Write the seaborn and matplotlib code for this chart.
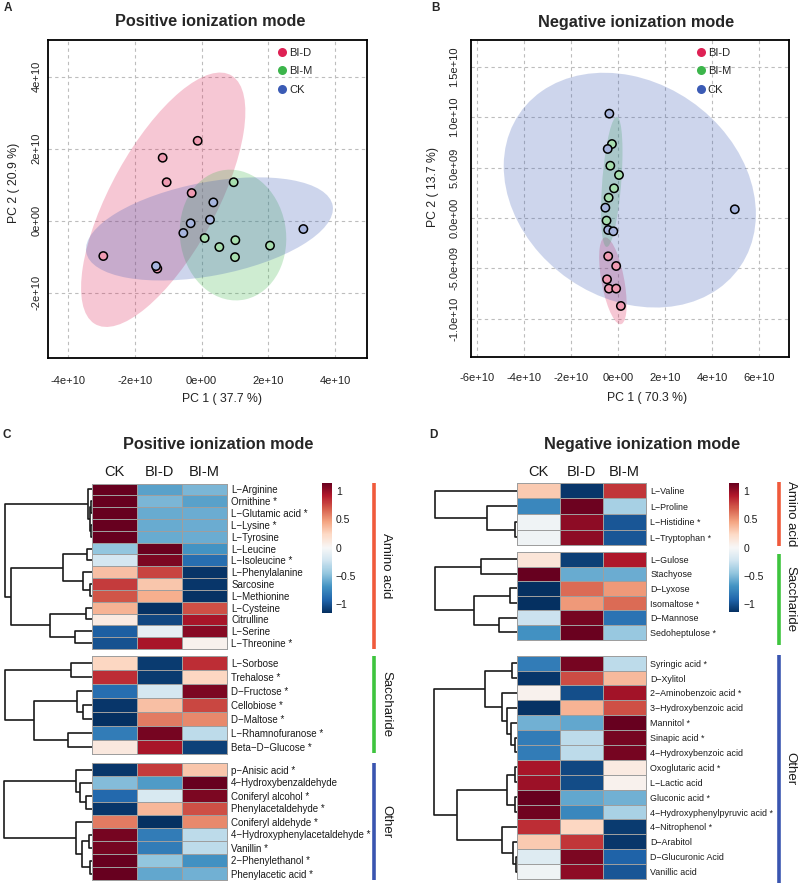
import numpy as np
import pandas as pd
import matplotlib
matplotlib.use("Agg")
import matplotlib.pyplot as plt
import seaborn as sns
from matplotlib.patches import Ellipse
from matplotlib.lines import Line2D
from matplotlib.ticker import FuncFormatter
from matplotlib.cm import ScalarMappable

sns.set_style("white")
plt.rcParams["font.family"] = ["Liberation Sans", "DejaVu Sans"]

# ---------------- data ----------------
GROUPS = ["BI-D", "BI-M", "CK"]
GROUP_COLORS = ["#DE2154", "#3CB54B", "#3B5BB5"]

# Panel A (positive mode PCA)
A_BID_PC1 = [-0.12e10, -1.17e10, -1.05e10, -0.30e10, -2.95e10, -1.33e10]
A_BID_PC2 = [2.22e10, 1.75e10, 1.07e10, 0.77e10, -0.98e10, -1.33e10]
A_BIM_PC1 = [0.96e10, 0.09e10, 0.53e10, 1.01e10, 1.00e10, 2.05e10]
A_BIM_PC2 = [1.07e10, -0.48e10, -0.73e10, -0.54e10, -1.01e10, -0.69e10]
A_CK_PC1 = [0.35e10, 0.25e10, -0.33e10, -0.55e10, -1.37e10, 3.05e10]
A_CK_PC2 = [0.51e10, 0.03e10, -0.07e10, -0.34e10, -1.26e10, -0.23e10]
A_XTICKS = [-4e10, -2e10, 0, 2e10, 4e10]
A_YTICKS = [-2e10, 0, 2e10, 4e10]

# Panel B (negative mode PCA)
B_BID_PC1 = [-0.43e10, -0.09e10, -0.48e10, -0.40e10, -0.09e10, 0.11e10]
B_BID_PC2 = [-0.380e10, -0.476e10, -0.608e10, -0.700e10, -0.700e10, -0.872e10]
B_BIM_PC1 = [-0.27e10, -0.34e10, 0.03e10, -0.18e10, -0.41e10, -0.50e10]
B_BIM_PC2 = [0.733e10, 0.518e10, 0.426e10, 0.294e10, 0.201e10, -0.026e10]
B_CK_PC1 = [-0.38e10, -0.45e10, -0.55e10, -0.43e10, -0.21e10, 4.96e10]
B_CK_PC2 = [1.034e10, 0.684e10, 0.102e10, -0.119e10, -0.132e10, 0.086e10]
B_XTICKS = [-6e10, -4e10, -2e10, 0, 2e10, 4e10, 6e10]
B_YTICKS = [-1.0e10, -0.5e10, 0, 0.5e10, 1.0e10, 1.5e10]

# Heatmap columns and colour scale
COLUMNS = ["CK", "BI-D", "BI-M"]
VLIM = 1.15
CB_TICKS = [-1, -0.5, 0, 0.5, 1]
CB_LABELS = ["\u22121", "\u22120.5", "0", "0.5", "1"]
CLASS_NAMES = ["Amino acid", "Saccharide", "Other"]
CLASS_COLORS = ["#F05A3C", "#3EC43E", "#3A55B0"]

# Panel C (positive mode heatmap)
C_AMINO_NAMES = ["L\u2212Arginine", "Ornithine *", "L\u2212Glutamic acid *", "L\u2212Lysine *",
                 "L\u2212Tyrosine", "L\u2212Leucine", "L\u2212Isoleucine *", "L\u2212Phenylalanine",
                 "Sarcosine", "L\u2212Methionine", "L\u2212Cysteine", "Citrulline",
                 "L\u2212Serine", "L\u2212Threonine *"]
C_AMINO_CK = [1.15, 1.15, 1.15, 1.15, 1.15, -0.45, -0.20, 0.35, 0.80, 0.72, 0.40, 0.10, -0.95, -1.00]
C_AMINO_BID = [-0.62, -0.53, -0.58, -0.58, -0.58, 1.14, 1.08, 0.78, 0.32, 0.42, -1.14, -1.05, -0.10, 0.95]
C_AMINO_BIM = [-0.53, -0.62, -0.57, -0.57, -0.57, -0.69, -0.88, -1.13, -1.12, -1.14, 0.74, 0.95, 1.05, 0.05]
C_AMINO_TREE = [[0, [[1, 2, 3], [3, 4, 3], 5], 10],
                [[[5, 6, 13], [7, [8, 9, 5], 25], 85],
                 [[10, 11, 17], [12, 13, 50], 125], 242], 260]

C_SACCH_NAMES = ["L\u2212Sorbose", "Trehalose *", "D\u2212Fructose *", "Cellobiose *",
                 "D\u2212Maltose *", "L\u2212Rhamnofuranose *", "Beta\u2212D\u2212Glucose *"]
C_SACCH_CK = [0.25, 0.85, -0.88, -1.12, -1.15, -0.80, 0.12]
C_SACCH_BID = [-1.10, -1.10, -0.20, 0.35, 0.60, 1.10, 0.95]
C_SACCH_BIM = [0.85, 0.25, 1.08, 0.77, 0.55, -0.30, -1.07]
C_SACCH_TREE = [[0, 1, 63], [[2, [3, 4, 25], 43], [5, 6, 72], 173], 260]

C_OTHER_NAMES = ["p\u2212Anisic acid *", "4\u2212Hydroxybenzaldehyde", "Coniferyl alcohol *",
                 "Phenylacetaldehyde *", "Coniferyl aldehyde *", "4\u2212Hydroxyphenylacetaldehyde *",
                 "Vanillin *", "2\u2212Phenylethanol *", "Phenylacetic acid *"]
C_OTHER_CK = [-1.12, -0.50, -0.90, -1.12, 0.60, 1.10, 1.10, 1.15, 1.15]
C_OTHER_BID = [0.80, -0.65, -0.18, 0.38, -1.15, -0.80, -0.80, -0.45, -0.60]
C_OTHER_BIM = [0.32, 1.15, 1.08, 0.74, 0.55, -0.30, -0.30, -0.70, -0.55]
C_OTHER_TREE = [[0, [1, [2, 3, 17], 35], 47], [4, [[5, 6, 7], [7, 8, 5], 30], 47], 263]

# Panel D (negative mode heatmap)
D_AMINO_NAMES = ["L\u2212Valine", "L\u2212Proline", "L\u2212Histidine *", "L\u2212Tryptophan *"]
D_AMINO_CK = [0.30, -0.75, -0.05, -0.05]
D_AMINO_BID = [-1.12, 1.13, 1.03, 1.03]
D_AMINO_BIM = [0.82, -0.38, -0.98, -0.98]
D_AMINO_TREE = [0, [1, [2, 3, 5], 90], 247]

D_SACCH_NAMES = ["L\u2212Gulose", "Stachyose", "D\u2212Lyxose", "Isomaltose *",
                 "D\u2212Mannose", "Sedoheptulose *"]
D_SACCH_CK = [0.15, 1.15, -1.15, -1.15, -0.25, -0.70]
D_SACCH_BID = [-1.08, -0.58, 0.65, 0.50, 1.10, 1.14]
D_SACCH_BIM = [0.93, -0.57, 0.50, 0.65, -0.85, -0.44]
D_SACCH_TREE = [[0, 1, 107], [[2, 3, 20], [4, 5, 53], 128], 247]

D_OTHER_NAMES = ["Syringic acid *", "D\u2212Xylitol", "2\u2212Aminobenzoic acid *",
                 "3\u2212Hydroxybenzoic acid", "Mannitol *", "Sinapic acid *",
                 "4\u2212Hydroxybenzoic acid", "Oxoglutaric acid *", "L\u2212Lactic acid",
                 "Gluconic acid *", "4\u2212Hydroxyphenylpyruvic acid *", "4\u2212Nitrophenol *",
                 "D\u2212Arabitol", "D\u2212Glucuronic Acid", "Vanillic acid"]
D_OTHER_CK = [-0.80, -1.12, 0.05, -1.14, -0.55, -0.80, -0.80, 0.95, 0.98, 1.15, 1.12, 0.85, 0.30, -0.15, -0.05]
D_OTHER_BID = [1.10, 0.75, -1.02, 0.40, -0.60, -0.30, -0.30, -1.05, -1.03, -0.60, -0.75, 0.25, 0.82, 1.08, 1.03]
D_OTHER_BIM = [-0.30, 0.37, 0.97, 0.74, 1.15, 1.10, 1.10, 0.10, 0.05, -0.55, -0.37, -1.10, -1.12, -0.93, -0.98]
D_OTHER_TREE = [[[0, 1, 15], [2, [3, [4, [5, 6, 5], 17], 30], 43], 95],
                [[[7, 8, 5], [9, 10, 5], 30], [11, [12, [13, 14, 3], 10], 43], 178], 245]

# ---------------- layout helpers ----------------
W, H = 798, 886
fig = plt.figure(figsize=(W / 100, H / 100), dpi=100)
fig.patch.set_facecolor("white")


def rect(l, t, r, b):
    return [l / W, 1 - b / H, (r - l) / W, (b - t) / H]


def ftext(x, y, s, **kw):
    kw.setdefault("ha", "center")
    kw.setdefault("va", "center")
    fig.text(x / W, 1 - y / H, s, **kw)


CMAP = plt.get_cmap("RdBu_r")
LIGHT = [tuple(0.45 * np.array(matplotlib.colors.to_rgb(c)) + 0.55) for c in GROUP_COLORS]
CHI2_95 = np.sqrt(5.991)


def conf_ellipse(ax, x, y, color):
    x = np.asarray(x); y = np.asarray(y)
    cov = np.cov(x, y)
    vals, vecs = np.linalg.eigh(cov)
    order = vals.argsort()[::-1]
    vals, vecs = vals[order], vecs[:, order]
    ang = np.degrees(np.arctan2(vecs[1, 0], vecs[0, 0]))
    e = Ellipse((x.mean(), y.mean()), 2 * CHI2_95 * np.sqrt(vals[0]), 2 * CHI2_95 * np.sqrt(vals[1]),
                angle=ang, facecolor=color, alpha=0.25, edgecolor="none", zorder=1)
    ax.add_patch(e)


def pca_panel(box, series, xlim, ylim, xticks, yticks, xfmt, yfmt, xlab, ylab, xlab_pos, ylab_pos,
              leg_anchor, ypad, xpad):
    ax = fig.add_axes(rect(*box))
    frames = []
    for g, (px, py), col in zip(GROUPS, series, GROUP_COLORS):
        conf_ellipse(ax, px, py, col)
        frames.append(pd.DataFrame({"PC1": px, "PC2": py, "group": g}))
    df = pd.concat(frames, ignore_index=True)
    sns.scatterplot(data=df, x="PC1", y="PC2", hue="group", hue_order=GROUPS,
                    palette=dict(zip(GROUPS, LIGHT)), s=36, edgecolor="black", linewidth=1.1,
                    legend=False, ax=ax, zorder=3)
    ax.set_xlim(*xlim); ax.set_ylim(*ylim)
    ax.set_xticks(xticks); ax.set_yticks(yticks)
    ax.xaxis.set_major_formatter(FuncFormatter(lambda v, p: xfmt.format(v)))
    ax.yaxis.set_major_formatter(FuncFormatter(lambda v, p: yfmt.format(v)))
    ax.grid(True, linestyle=(0, (3, 3)), color="#BDBDBD", linewidth=0.8)
    ax.tick_params(axis="both", direction="out", length=4, width=0.8, color="black",
                   labelsize=8, labelcolor="#222222")
    ax.tick_params(axis="x", pad=xpad)
    ax.tick_params(axis="y", labelrotation=90, pad=ypad)
    for lab in ax.get_yticklabels():
        lab.set_va("center")
    for s in ax.spines.values():
        s.set_linewidth(1.3); s.set_color("black"); s.set_visible(True)
    ax.set_xlabel(xlab, fontsize=8.8, color="#222222")
    ax.set_ylabel(ylab, fontsize=8.8, color="#222222")
    ax.xaxis.set_label_coords(*xlab_pos)
    ax.yaxis.set_label_coords(*ylab_pos)
    handles = [Line2D([], [], marker="o", linestyle="none", markersize=6.5, markerfacecolor=c,
                      markeredgecolor="none", label=g) for g, c in zip(GROUPS, GROUP_COLORS)]
    ax.legend(handles=handles, loc="upper left", bbox_to_anchor=leg_anchor, frameon=False,
              fontsize=8, handletextpad=0.15, labelspacing=0.78, borderaxespad=0, borderpad=0,
              handlelength=1.0)
    return ax


pca_panel((48.3, 40, 366.7, 358.3),
          [(A_BID_PC1, A_BID_PC2), (A_BIM_PC1, A_BIM_PC2), (A_CK_PC1, A_CK_PC2)],
          (-4.6e10, 4.95e10), (-3.82e10, 5.02e10), A_XTICKS, A_YTICKS, "{:.0e}", "{:.0e}",
          "PC 1 ( 37.7 %)", "PC 2 ( 20.9 %)", (0.546, -0.108), (-0.09, 0.552), (0.717, 0.976),
          1.0, 9.0)

pca_panel((471, 40, 789.3, 356.7),
          [(B_BID_PC1, B_BID_PC2), (B_BIM_PC1, B_BIM_PC2), (B_CK_PC1, B_CK_PC2)],
          (-6.27e10, 7.28e10), (-1.375e10, 1.764e10), B_XTICKS, B_YTICKS, "{:.0e}", "{:.1e}",
          "PC 1 ( 70.3 %)", "PC 2 ( 13.7 %)", (0.552, -0.11), (-0.10, 0.536), (0.704, 0.976),
          4.5, 7.5)


# ---------------- heatmaps ----------------
def draw_tree(ax, tree, n):
    def rec(node):
        if isinstance(node, int):
            return node + 0.5, 0.0
        left, right, h = node
        yl, hl = rec(left)
        yr, hr = rec(right)
        ax.plot([hl, h, h, hr], [yl, yl, yr, yr], color="#1A1A1A", lw=1.2,
                solid_capstyle="butt", clip_on=False)
        return (yl + yr) / 2, h
    _, root = rec(tree)
    ax.set_ylim(n, 0)
    ax.set_xlim(root, 0)
    ax.axis("off")


def heat_block(hl, hr, t, b, dl, names, ck, bid, bim, tree, show_cols, rowsize):
    ax = fig.add_axes(rect(hl, t, hr, b))
    df = pd.DataFrame({COLUMNS[0]: ck, COLUMNS[1]: bid, COLUMNS[2]: bim}, index=names)
    sns.heatmap(df, ax=ax, cmap=CMAP, vmin=-VLIM, vmax=VLIM, cbar=False, linewidths=0.7,
                linecolor="#9E9E9E", xticklabels=show_cols, yticklabels=True)
    ax.collections[0].set_clip_on(False)
    ax.yaxis.tick_right()
    ax.tick_params(axis="y", length=0, pad=3, labelsize=rowsize, labelrotation=0,
                   labelcolor="#1A1A1A")
    if show_cols:
        ax.xaxis.tick_top()
        ax.tick_params(axis="x", length=0, pad=3, labelsize=10.5, labelrotation=0,
                       labelcolor="#1A1A1A")
    ax.set_xlabel(""); ax.set_ylabel("")
    dax = fig.add_axes(rect(dl, t, hl, b))
    draw_tree(dax, tree, len(names))


def colorbar(l, t, r, b):
    cax = fig.add_axes(rect(l, t, r, b))
    cb = fig.colorbar(ScalarMappable(norm=plt.Normalize(-VLIM, VLIM), cmap=CMAP), cax=cax,
                      ticks=CB_TICKS)
    cb.outline.set_visible(False)
    cax.set_yticklabels(CB_LABELS)
    cax.tick_params(length=0, labelsize=7.5, pad=3, labelcolor="#1A1A1A")


def class_bar(x, t, b, name, color, tx):
    fig.add_artist(Line2D([x / W, x / W], [1 - t / H, 1 - b / H], transform=fig.transFigure,
                          color=color, lw=2.6, solid_capstyle="butt"))
    ftext(tx, (t + b) / 2, name, rotation=-90, fontsize=9.5, color="#1A1A1A")


# Panel C
heat_block(91.7, 227, 483.5, 649, 5, C_AMINO_NAMES, C_AMINO_CK, C_AMINO_BID, C_AMINO_BIM,
           C_AMINO_TREE, True, 7)
heat_block(91.7, 227, 656, 753.5, 5, C_SACCH_NAMES, C_SACCH_CK, C_SACCH_BID, C_SACCH_BIM,
           C_SACCH_TREE, False, 7)
heat_block(91.7, 227, 763, 880, 4, C_OTHER_NAMES, C_OTHER_CK, C_OTHER_BID, C_OTHER_BIM,
           C_OTHER_TREE, False, 7)
colorbar(321.7, 482.7, 331.7, 612.7)
for (t, b), name, col in zip([(482.7, 649), (656, 753), (763, 880)], CLASS_NAMES, CLASS_COLORS):
    class_bar(374, t, b, name, col, 386)

# Panel D
heat_block(516.7, 646, 483, 545, 434.5, D_AMINO_NAMES, D_AMINO_CK, D_AMINO_BID, D_AMINO_BIM,
           D_AMINO_TREE, True, 6.4)
heat_block(516.7, 646, 552, 639.5, 434.5, D_SACCH_NAMES, D_SACCH_CK, D_SACCH_BID, D_SACCH_BIM,
           D_SACCH_TREE, False, 6.4)
heat_block(516.7, 646, 655.7, 879, 434, D_OTHER_NAMES, D_OTHER_CK, D_OTHER_BID, D_OTHER_BIM,
           D_OTHER_TREE, False, 6.4)
colorbar(729.3, 482.7, 739.3, 612.3)
for (t, b), name, col in zip([(482, 546), (554, 645), (655, 883)], CLASS_NAMES, CLASS_COLORS):
    class_bar(779, t, b, name, col, 790.5)

# ---------------- titles / panel letters ----------------
ftext(210, 22, "Positive ionization mode", fontsize=11.7, fontweight="bold")
ftext(636, 22, "Negative ionization mode", fontsize=11.7, fontweight="bold")
ftext(218, 445, "Positive ionization mode", fontsize=11.7, fontweight="bold")
ftext(642, 445, "Negative ionization mode", fontsize=11.7, fontweight="bold")
ftext(8, 8, "A", fontsize=8.5, fontweight="bold")
ftext(435, 8, "B", fontsize=8.5, fontweight="bold")
ftext(7, 435, "C", fontsize=8.5, fontweight="bold")
ftext(433, 435, "D", fontsize=8.5, fontweight="bold")

fig.savefig("out.png", dpi=100, facecolor="white")
